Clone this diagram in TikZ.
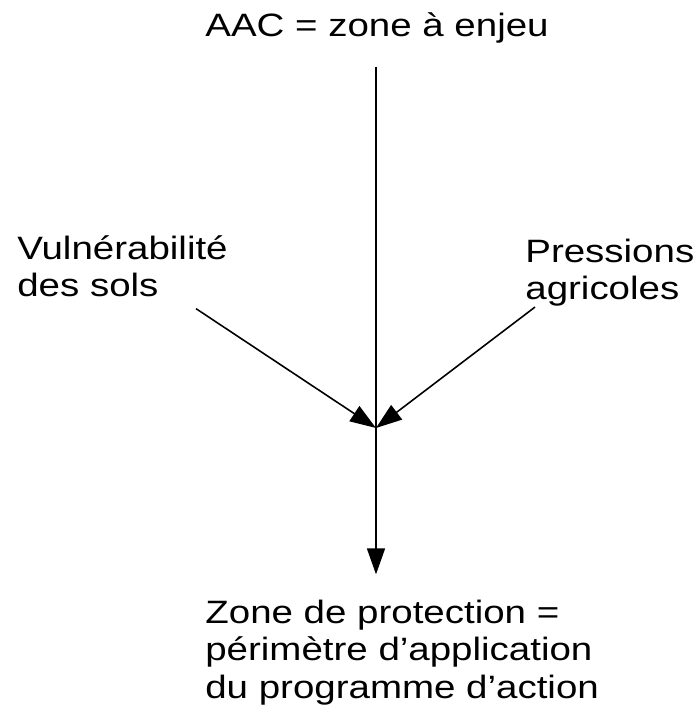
\documentclass[tikz,border=0pt]{standalone}
\usepackage{fontspec}
\setmainfont[FakeStretch=1.19]{Liberation Sans}
\usetikzlibrary{arrows.meta,calc}

\begin{document}
\begin{tikzpicture}[
    lbl/.style={inner sep=0, font=\fontsize{18.4}{21.3}\selectfont, align=left},
    arr/.style={line width=0.9pt, -{Triangle[length=0.52cm,width=0.36cm]}}
]
\useasboundingbox (0,0) rectangle (13.94,14.2);
\node[lbl, anchor=base] (aac) at (7.54,13.46) {AAC = zone à enjeu};
\node[lbl, anchor=base west] (vuln) at (0.34,8.26) {Vulnérabilité\\des sols};
\node[lbl, anchor=base west] (press) at (10.5,8.2) {Pressions\\agricoles};
\node[lbl, anchor=base west] (prot) at (4.1,0.24) {Zone de protection =\\périmètre d’application\\du programme d’action};
\coordinate (meet) at (7.52,5.64);
% stake zone down to the meeting point
\draw[line width=0.9pt, shorten <=0.45cm] (meet |- aac.south) -- (meet);
% soils and farming feed in
\draw[arr] ($(vuln.south east)+(-0.64,-0.22)$) -- (meet);
\draw[arr] ($(press.south west)+(0.2,0)$) -- (meet);
% result
\draw[arr, shorten >=0.5cm] (meet) -- (meet |- prot.north);
\end{tikzpicture}
\end{document}
